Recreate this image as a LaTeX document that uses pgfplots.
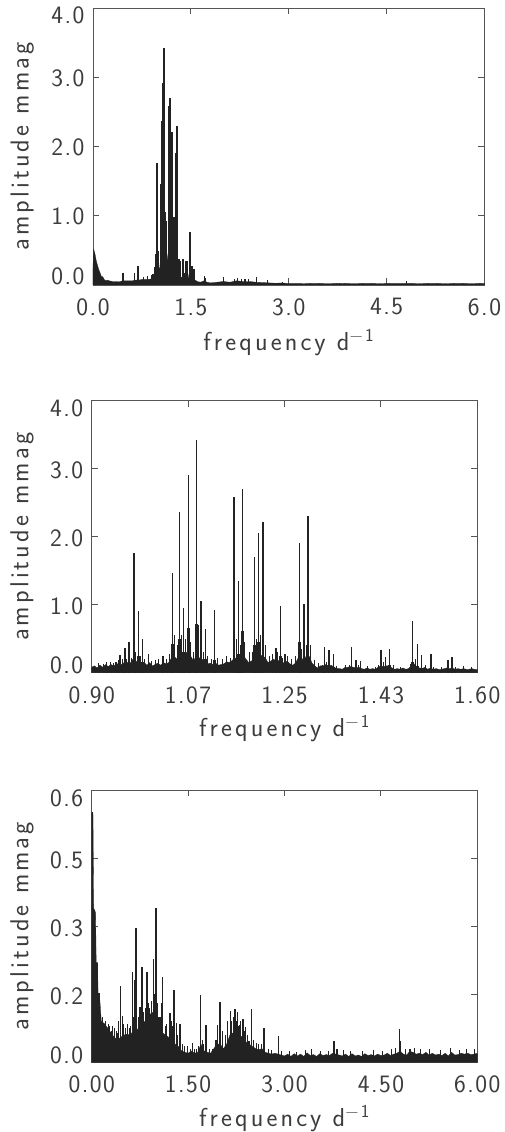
\documentclass[border=0pt]{standalone}
\usepackage{fontspec}
\setmainfont{Latin Modern Sans}[LetterSpace=6]
\newfontfamily\labelfont{Latin Modern Sans}[LetterSpace=12]
\usepackage{pgfplots}
\usepackage{pgfplotstable}
\pgfplotsset{compat=1.18}
\definecolor{ink}{HTML}{222222}
\definecolor{txt}{HTML}{3C3C3C}
\definecolor{frame}{HTML}{555555}
\newcommand{\yl}[2]{\raisebox{#1}[16pt][0pt]{#2}}
% main peaks: frequency, amplitude
\pgfplotstableread{
f a b
0.9268 0.16 0.06
0.9440 0.16 0.08
0.9510 0.26 0.10
0.9600 0.36 0.12
0.9678 0.45 0.14
0.9768 1.755 0.45
0.9847 0.90 0.25
0.9926 0.49 0.16
1.0035 0.27 0.10
1.0290 0.245 0.10
1.0464 1.465 0.42
1.0597 2.37 0.50
1.0670 0.955 0.30
1.0755 2.91 0.65
1.0906 3.42 0.72
1.0984 1.054 0.32
1.1063 0.64 0.20
1.1233 0.92 0.18
1.1583 2.58 0.45
1.1662 1.35 0.28
1.1741 2.70 0.62
1.1952 1.70 0.40
1.2031 2.06 0.45
1.2110 2.215 0.62
1.2346 0.36 0.18
1.2424 0.985 0.24
1.2509 0.28 0.14
1.2775 1.90 0.45
1.2853 1.01 0.22
1.2926 2.30 0.55
1.3229 0.38 0.08
1.3308 0.34 0.08
1.3386 0.27 0.08
1.3719 0.38 0.08
1.3798 0.19 0.07
1.3882 0.17 0.06
1.4251 0.34 0.10
1.4336 0.235 0.08
1.4409 0.35 0.12
1.4826 0.765 0.16
1.4911 0.42 0.10
1.4989 0.26 0.07
1.5158 0.27 0.07
1.5467 0.19 0.06
1.5540 0.23 0.06
}\peaks
% top panel: low-frequency and high-frequency small spikes
\pgfplotstableread{
f a
0.46 0.17
0.64 0.17
0.69 0.28
0.78 0.12
0.84 0.13
0.90 0.14
1.71 0.13
1.73 0.10
2.00 0.11
2.17 0.08
2.22 0.10
2.27 0.09
2.33 0.09
2.38 0.08
2.50 0.12
2.68 0.07
2.90 0.05
3.78 0.03
4.10 0.02
4.80 0.06
}\topspikes
\pgfplotstableread{
f a
0.00 0.25
0.01 0.52
0.03 0.45
0.05 0.35
0.07 0.28
0.09 0.22
0.11 0.17
0.13 0.12
0.15 0.12
0.17 0.08
0.20 0.06
0.22 0.07
0.25 0.06
0.30 0.05
0.35 0.05
0.40 0.045
0.45 0.06
0.50 0.06
0.55 0.06
0.60 0.06
0.65 0.07
0.70 0.07
0.75 0.08
0.80 0.08
0.85 0.08
0.90 0.09
0.95 0.12
0.97 0.35
1.00 0.30
1.02 0.20
1.04 0.45
1.08 0.60
1.10 0.50
1.12 0.25
1.15 0.45
1.18 0.60
1.20 0.40
1.22 0.50
1.24 0.30
1.27 0.20
1.29 0.50
1.31 0.15
1.34 0.12
1.38 0.10
1.42 0.10
1.46 0.10
1.48 0.20
1.50 0.12
1.55 0.08
1.60 0.05
1.65 0.04
1.70 0.06
1.75 0.04
1.80 0.03
1.90 0.04
2.00 0.05
2.10 0.04
2.20 0.06
2.30 0.05
2.40 0.05
2.50 0.04
2.60 0.035
2.70 0.03
2.80 0.025
2.90 0.03
3.00 0.02
3.20 0.02
3.40 0.025
3.60 0.02
3.80 0.025
4.00 0.02
4.20 0.025
4.40 0.02
4.60 0.025
4.80 0.025
5.00 0.02
5.20 0.025
5.40 0.02
5.60 0.025
5.80 0.02
6.00 0.025
}\topfloor
% middle panel noise floor
\pgfplotstableread{
f a
0.900 0.08
0.905 0.10
0.910 0.07
0.915 0.11
0.920 0.08
0.925 0.12
0.930 0.09
0.935 0.12
0.940 0.10
0.945 0.13
0.950 0.13
0.955 0.12
0.960 0.16
0.965 0.15
0.970 0.14
0.975 0.20
0.980 0.16
0.985 0.18
0.990 0.14
0.995 0.15
1.000 0.11
1.005 0.15
1.010 0.10
1.015 0.12
1.020 0.14
1.025 0.11
1.030 0.15
1.035 0.13
1.040 0.15
1.045 0.22
1.050 0.24
1.055 0.20
1.060 0.28
1.065 0.24
1.070 0.30
1.075 0.30
1.080 0.24
1.085 0.17
1.090 0.26
1.095 0.22
1.100 0.20
1.105 0.18
1.110 0.13
1.115 0.14
1.120 0.12
1.125 0.14
1.130 0.11
1.135 0.12
1.140 0.13
1.145 0.16
1.150 0.15
1.155 0.18
1.160 0.22
1.165 0.18
1.170 0.20
1.175 0.26
1.180 0.20
1.185 0.15
1.190 0.17
1.195 0.22
1.200 0.24
1.205 0.26
1.210 0.25
1.215 0.22
1.220 0.15
1.225 0.17
1.230 0.20
1.235 0.17
1.240 0.18
1.245 0.14
1.250 0.15
1.255 0.17
1.260 0.13
1.265 0.11
1.270 0.14
1.275 0.22
1.280 0.24
1.285 0.16
1.290 0.26
1.295 0.24
1.300 0.14
1.305 0.10
1.310 0.07
1.315 0.10
1.320 0.10
1.325 0.12
1.330 0.10
1.335 0.11
1.340 0.08
1.345 0.06
1.350 0.06
1.355 0.05
1.360 0.08
1.365 0.08
1.370 0.09
1.375 0.08
1.380 0.07
1.385 0.08
1.390 0.06
1.395 0.05
1.400 0.07
1.405 0.05
1.410 0.06
1.415 0.05
1.420 0.08
1.425 0.10
1.430 0.09
1.435 0.10
1.440 0.10
1.445 0.07
1.450 0.05
1.455 0.06
1.460 0.05
1.465 0.07
1.470 0.05
1.475 0.06
1.480 0.10
1.485 0.13
1.490 0.09
1.495 0.07
1.500 0.06
1.505 0.08
1.510 0.05
1.515 0.07
1.520 0.05
1.525 0.06
1.530 0.05
1.535 0.05
1.540 0.06
1.545 0.07
1.550 0.06
1.555 0.07
1.560 0.05
1.565 0.06
1.570 0.05
1.575 0.06
1.580 0.05
1.585 0.05
1.590 0.06
1.595 0.05
1.600 0.05
}\midfloor
% middle panel small spikes in the noise
\pgfplotstableread{
f a
0.912 0.14
0.921 0.13
0.934 0.15
0.939 0.14
0.949 0.18
0.956 0.20
0.963 0.20
0.972 0.22
0.980 0.30
0.988 0.24
0.996 0.20
1.008 0.17
1.016 0.18
1.022 0.20
1.035 0.20
1.042 0.28
1.050 0.55
1.055 0.40
1.063 0.55
1.071 0.50
1.079 0.45
1.085 0.30
1.094 0.70
1.102 0.30
1.110 0.25
1.118 0.20
1.128 0.22
1.137 0.20
1.145 0.24
1.152 0.22
1.162 0.50
1.170 0.40
1.178 0.45
1.186 0.30
1.192 0.30
1.199 0.50
1.207 0.55
1.216 0.40
1.222 0.25
1.228 0.28
1.238 0.30
1.247 0.22
1.256 0.24
1.262 0.20
1.270 0.25
1.281 0.35
1.289 0.40
1.297 0.40
1.304 0.18
1.312 0.14
1.318 0.12
1.327 0.15
1.345 0.10
1.360 0.11
1.368 0.12
1.384 0.12
1.400 0.10
1.415 0.09
1.420 0.12
1.430 0.15
1.447 0.11
1.460 0.09
1.478 0.13
1.487 0.20
1.505 0.11
1.520 0.09
1.535 0.08
1.560 0.09
1.575 0.10
1.590 0.08
}\midjag
% bottom panel spikes
\pgfplotstableread{
f a
0.016 0.552
0.040 0.336
0.080 0.218
0.114 0.152
0.353 0.075
0.420 0.090
0.451 0.168
0.482 0.102
0.633 0.199
0.664 0.181
0.690 0.297
0.752 0.121
0.783 0.211
0.861 0.200
0.892 0.119
0.965 0.228
1.000 0.341
1.048 0.100
1.105 0.187
1.219 0.108
1.281 0.159
1.322 0.086
1.374 0.084
1.494 0.035
1.566 0.042
1.696 0.148
1.779 0.082
1.934 0.049
1.955 0.082
1.996 0.133
2.038 0.068
2.162 0.113
2.230 0.118
2.266 0.110
2.297 0.082
2.354 0.096
2.396 0.077
2.448 0.048
2.484 0.118
2.567 0.042
2.681 0.075
2.904 0.057
3.770 0.046
3.817 0.029
4.786 0.073
4.807 0.046
4.950 0.029
}\botspikes
\pgfplotstableread{
f a
0.17 0.100
0.22 0.090
0.26 0.085
0.28 0.080
0.31 0.070
0.33 0.080
0.38 0.070
0.40 0.065
0.44 0.080
0.50 0.085
0.53 0.075
0.56 0.085
0.59 0.075
0.61 0.080
0.65 0.100
0.72 0.100
0.74 0.110
0.81 0.110
0.83 0.120
0.88 0.130
0.93 0.135
0.98 0.150
1.02 0.130
1.07 0.100
1.09 0.130
1.14 0.080
1.17 0.085
1.24 0.090
1.26 0.080
1.34 0.060
1.41 0.040
1.45 0.035
1.53 0.030
1.60 0.030
1.63 0.030
1.66 0.035
1.72 0.050
1.74 0.040
1.83 0.030
1.88 0.030
2.08 0.060
2.12 0.090
2.18 0.090
2.21 0.100
2.25 0.090
2.28 0.080
2.32 0.090
2.37 0.070
2.42 0.060
2.52 0.050
2.60 0.040
2.64 0.040
2.75 0.030
2.80 0.028
2.96 0.025
3.08 0.025
3.18 0.022
3.33 0.027
3.42 0.030
3.56 0.025
3.68 0.025
3.92 0.027
4.03 0.025
4.22 0.024
4.38 0.027
4.52 0.025
4.66 0.030
4.72 0.032
4.88 0.030
5.02 0.032
5.12 0.030
5.25 0.030
5.42 0.028
5.58 0.032
5.72 0.028
5.83 0.030
5.95 0.030
}\botjag
\pgfplotstableread{
f a
0.00 0.55
0.02 0.55
0.03 0.34
0.06 0.33
0.07 0.22
0.09 0.22
0.10 0.15
0.12 0.15
0.15 0.09
0.20 0.085
0.25 0.075
0.30 0.065
0.35 0.055
0.40 0.050
0.45 0.055
0.50 0.060
0.55 0.062
0.60 0.060
0.65 0.070
0.70 0.070
0.75 0.080
0.80 0.085
0.85 0.095
0.90 0.105
0.95 0.110
1.00 0.110
1.05 0.085
1.10 0.065
1.15 0.060
1.20 0.055
1.25 0.050
1.30 0.040
1.35 0.035
1.40 0.025
1.45 0.022
1.50 0.020
1.55 0.025
1.60 0.020
1.65 0.022
1.70 0.040
1.75 0.025
1.80 0.022
1.85 0.020
1.90 0.030
1.95 0.040
2.00 0.040
2.05 0.030
2.10 0.040
2.15 0.060
2.20 0.065
2.25 0.065
2.30 0.060
2.35 0.055
2.40 0.045
2.45 0.040
2.50 0.035
2.55 0.030
2.60 0.028
2.65 0.030
2.70 0.022
2.75 0.020
2.80 0.018
2.85 0.020
2.90 0.018
2.95 0.016
3.00 0.014
3.05 0.018
3.10 0.013
3.15 0.019
3.20 0.014
3.25 0.018
3.30 0.013
3.35 0.021
3.40 0.015
3.45 0.017
3.50 0.013
3.55 0.019
3.60 0.015
3.65 0.017
3.70 0.015
3.75 0.020
3.80 0.018
3.85 0.016
3.90 0.014
3.95 0.018
4.00 0.013
4.05 0.019
4.10 0.014
4.15 0.016
4.20 0.013
4.25 0.019
4.30 0.015
4.35 0.017
4.40 0.014
4.45 0.018
4.50 0.015
4.55 0.016
4.60 0.020
4.65 0.015
4.70 0.018
4.75 0.020
4.80 0.025
4.85 0.018
4.90 0.016
4.95 0.024
5.00 0.022
5.05 0.018
5.10 0.020
5.15 0.017
5.20 0.022
5.25 0.016
5.30 0.020
5.35 0.016
5.40 0.018
5.45 0.015
5.50 0.020
5.55 0.014
5.60 0.022
5.65 0.016
5.70 0.017
5.75 0.020
5.80 0.018
5.85 0.020
5.90 0.017
5.95 0.018
6.00 0.020
}\botfloor
\pgfplotsset{
  panel/.style={
    scale only axis,
    anchor=south west,
    axis line style={color=frame,line width=0.9pt},
    tick style={color=frame,line width=0.9pt},
    tick align=inside,
    major tick length=6.5pt,
    ticklabel style={font=\fontsize{25}{27}\selectfont,text=txt},
    xtick pos=both, ytick pos=both,
    xlabel={\labelfont frequency d\textsuperscript{−1}},
    ylabel={\labelfont amplitude mmag},
    xlabel style={font=\fontsize{26}{28}\selectfont,text=txt,at={(axis description cs:0.5,-0.207)},anchor=center},
    ylabel style={font=\fontsize{26}{28}\selectfont,text=txt,at={(axis description cs:-0.181,0.5)},anchor=center},
    xticklabel style={yshift=-10pt},
    yticklabel style={xshift=-5pt},
    clip=true,
  },
}
\begin{document}
\begin{tikzpicture}
\useasboundingbox (0pt,0pt) rectangle (504pt,1132pt);
% top
\begin{axis}[panel, at={(93pt,847pt)}, width=391.5pt, height=277pt,
  xmin=0,xmax=6,ymin=0,ymax=4,
  xtick={0,1.5,3,4.5,6}, xticklabels={0.0,1.5,3.0,4.5,6.0},
  ytick={0,1,2,3,4}, yticklabels={\yl{8pt}{0.0},\yl{-1pt}{1.0},\yl{-1pt}{2.0},\yl{-1pt}{3.0},\yl{-8pt}{4.0}},
  ]
  \addplot[fill=ink,draw=ink,line width=0.3pt] table[x=f,y=a]{\topfloor} \closedcycle;
  \addplot[ycomb,no marks,ink,line width=2pt] table[x=f,y=a]{\peaks};
  \addplot[ycomb,no marks,ink,line width=1.1pt] table[x=f,y=a]{\topspikes};
\end{axis}
% middle
\begin{axis}[panel, at={(91.7pt,459.3pt)}, width=385.6pt, height=272pt,
  xmin=0.9,xmax=1.6,ymin=0,ymax=4,
  xtick={0.9,1.075,1.25,1.425,1.6}, xticklabels={0.90,1.07,1.25,1.43,1.60},
  ytick={0,1,2,3,4}, yticklabels={\yl{7pt}{0.0},\yl{-2pt}{1.0},\yl{-2pt}{2.0},\yl{-2pt}{3.0},\yl{-8pt}{4.0}},
  ]
  \addplot[fill=ink,draw=ink,line width=0.3pt] table[x=f,y=a]{\midfloor} \closedcycle;
  \addplot[ycomb,no marks,ink,line width=0.9pt] table[x=f,y=a]{\midjag};
  \addplot[ycomb,no marks,ink,line width=2.6pt] table[x=f,y=b]{\peaks};
  \addplot[ycomb,no marks,ink,line width=1.5pt] table[x=f,y=a]{\peaks};
\end{axis}
% bottom
\begin{axis}[panel, at={(91.7pt,69.7pt)}, width=385.6pt, height=272.3pt,
  xmin=0,xmax=6,ymin=0,ymax=0.6,
  xtick={0,1.5,3,4.5,6}, xticklabels={0.00,1.50,3.00,4.50,6.00},
  ytick={0,0.15,0.3,0.45,0.6}, yticklabels={\yl{7pt}{0.0},\yl{-2pt}{0.2},\yl{-2pt}{0.3},\yl{-2pt}{0.5},\yl{-8pt}{0.6}},
  ]
  \addplot[fill=ink,draw=ink,line width=0.3pt] table[x=f,y=a]{\botfloor} \closedcycle;
  \addplot[ycomb,no marks,ink,line width=0.9pt] table[x=f,y=a]{\botjag};
  \addplot[ycomb,no marks,ink,line width=1.5pt] table[x=f,y=a]{\botspikes};
\end{axis}
\end{tikzpicture}
\end{document}
